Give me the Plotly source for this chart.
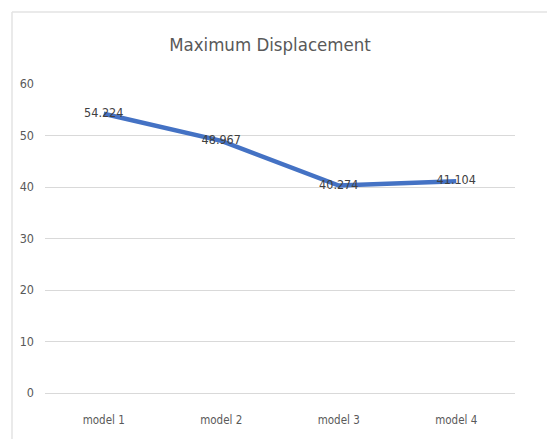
import plotly.graph_objects as go

# Maximum displacement per model
models = ["model 1", "model 2", "model 3", "model 4"]
displacement = [54.224, 48.967, 40.274, 41.104]
y_ticks = [0, 10, 20, 30, 40, 50, 60]

FONT = "DejaVu Sans Condensed, Lato, sans-serif"
GRID = "#d9d9d9"
TEXT = "#595959"

fig = go.Figure()
fig.add_trace(go.Scatter(
    x=models,
    y=displacement,
    mode="lines+text",
    line=dict(color="#4472c4", width=4.5),
    text=[f"{v:g}" for v in displacement],
    textposition="middle center",
    textfont=dict(family=FONT, size=12.5, color="#404040"),
    cliponaxis=False,
    showlegend=False,
))

fig.update_layout(
    width=547,
    height=439,
    margin=dict(l=45, r=32, t=84, b=42),
    paper_bgcolor="white",
    plot_bgcolor="white",
    font=dict(family=FONT, color=TEXT),
    title=dict(
        text="Maximum Displacement",
        font=dict(family=FONT, size=18.5, color=TEXT),
        x=270 / 547, xref="container", xanchor="center",
        y=1 - 45 / 439, yref="container", yanchor="middle",
    ),
    xaxis=dict(
        type="category",
        range=[-0.5, 3.5],
        showgrid=False,
        showline=False,
        ticks="",
        tickfont=dict(family=FONT, size=11.5, color=TEXT),
        ticklabelstandoff=18,
        fixedrange=True,
    ),
    yaxis=dict(
        range=[0, 60],
        tickvals=y_ticks,
        showgrid=True,
        gridcolor=GRID,
        gridwidth=1,
        zeroline=True,
        zerolinecolor=GRID,
        zerolinewidth=1,
        showline=False,
        ticks="",
        tickfont=dict(family=FONT, size=12.5, color=TEXT),
        ticklabelstandoff=10,
        fixedrange=True,
    ),
)

# Outer chart frame: top edge and left edge
fig.add_shape(type="line", xref="paper", yref="paper",
              x0=-33 / 470, x1=1.1, y0=1 + 73 / 313, y1=1 + 73 / 313,
              line=dict(color="#e3e3e3", width=1.5))
fig.add_shape(type="line", xref="paper", yref="paper",
              x0=-33 / 470, x1=-33 / 470, y0=-0.2, y1=1 + 73 / 313,
              line=dict(color="#e3e3e3", width=1.5))

fig.write_html("out.html")
